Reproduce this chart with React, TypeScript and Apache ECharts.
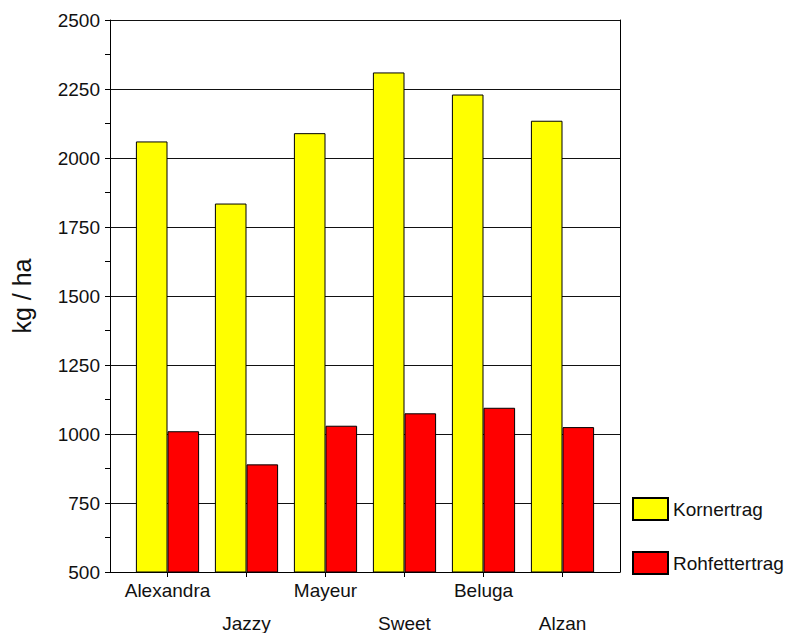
import React, { useEffect, useRef } from "react";
import * as echarts from "echarts";

const categories = ["Alexandra", "Jazzy", "Mayeur", "Sweet", "Beluga", "Alzan"];
const kornertrag = [2060, 1835, 2090, 2310, 2230, 2135];
const rohfettertrag = [1010, 890, 1030, 1075, 1095, 1025];
const seriesNames = ["Kornertrag", "Rohfettertrag"];
const yMin = 500;
const yMax = 2500;
const yStep = 250;

const FONT = "'Liberation Sans', Arial, Helvetica, sans-serif";

export default function App() {
  const ref = useRef<HTMLDivElement>(null);
  useEffect(() => {
    if (!ref.current) return;
    const chart = echarts.init(ref.current, undefined, { renderer: "svg" });
    const border = { borderColor: "#000", borderWidth: 1 };
    chart.setOption({
      animation: false,
      backgroundColor: "#fff",
      textStyle: { fontFamily: FONT },
      grid: [
        { left: 110, top: 20, width: 510, height: 552, outerBoundsMode: "none", containLabel: false },
        { left: 128, top: 20, width: 474, height: 552, outerBoundsMode: "none", containLabel: false },
      ],
      xAxis: [
        {
          gridIndex: 0,
          type: "value",
          min: 0,
          max: 1,
          axisLine: { show: true, lineStyle: { color: "#000", width: 1 } },
          axisTick: { show: false },
          axisLabel: { show: false },
          splitLine: { show: false },
        },
        {
          gridIndex: 1,
          type: "category",
          data: categories,
          boundaryGap: true,
          axisLine: { show: false },
          axisTick: { show: true, alignWithLabel: true, length: 5, lineStyle: { color: "#000" } },
          axisLabel: {
            interval: 0,
            margin: 2,
            fontSize: 19,
            lineHeight: 33,
            color: "#111",
            fontFamily: FONT,
            formatter: (v: string, i: number) => (i % 2 ? "\n" + v : v),
          },
        },
      ],
      yAxis: [
        {
          gridIndex: 0,
          type: "value",
          min: yMin,
          max: yMax,
          interval: yStep,
          name: "kg / ha",
          nameLocation: "middle",
          nameGap: 76,
          nameTextStyle: { fontSize: 25, color: "#111", fontFamily: FONT },
          axisLine: { show: true, lineStyle: { color: "#000", width: 1 } },
          axisTick: { show: true, length: 5, lineStyle: { color: "#000" } },
          minorTick: { show: true, splitNumber: 2, length: 5, lineStyle: { color: "#000" } },
          axisLabel: {
            fontSize: 19,
            margin: 10,
            color: "#111",
            fontFamily: FONT,
            formatter: (v: number) => String(v),
          },
          splitLine: { show: true, lineStyle: { color: "#111", width: 1 } },
        },
        {
          gridIndex: 0,
          type: "value",
          position: "right",
          min: yMin,
          max: yMax,
          interval: yStep,
          axisLine: { show: true, lineStyle: { color: "#000", width: 1 } },
          axisTick: { show: false },
          axisLabel: { show: false },
          splitLine: { show: false },
        },
        {
          gridIndex: 1,
          type: "value",
          min: yMin,
          max: yMax,
          interval: yStep,
          show: false,
        },
      ],
      legend: {
        orient: "vertical",
        left: 632,
        top: 497,
        padding: 0,
        itemWidth: 35,
        itemHeight: 22,
        itemGap: 30,
        icon: "rect",
        textStyle: { fontSize: 19, color: "#111", fontFamily: FONT },
        data: seriesNames,
      },
      series: [
        {
          name: seriesNames[0],
          type: "bar",
          xAxisIndex: 1,
          yAxisIndex: 2,
          data: kornertrag,
          barGap: "0%",
          barCategoryGap: "20%",
          itemStyle: { color: "#FFFF00", ...border },
        },
        {
          name: seriesNames[1],
          type: "bar",
          xAxisIndex: 1,
          yAxisIndex: 2,
          data: rohfettertrag,
          barGap: "0%",
          barCategoryGap: "20%",
          itemStyle: { color: "#FF0000", ...border },
        },
      ],
    });
    return () => chart.dispose();
  }, []);
  return (
    <div
      ref={ref}
      style={{ position: "absolute", left: 0, top: 0, width: 790, height: 633 }}
    />
  );
}
